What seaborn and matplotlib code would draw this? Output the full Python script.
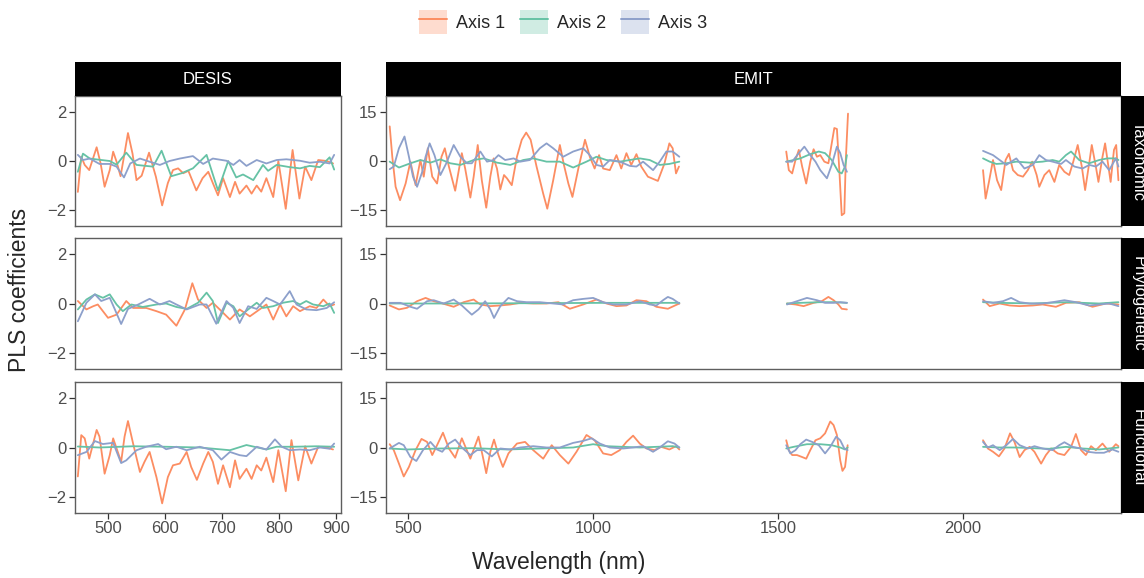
import numpy as np
import pandas as pd
import seaborn as sns
import matplotlib.pyplot as plt
from matplotlib.patches import Rectangle, Patch
from matplotlib.lines import Line2D

# ---------------------------------------------------------------
# DATA  (PLS coefficients)
# ---------------------------------------------------------------
axis_names = ["Axis 1", "Axis 2", "Axis 3"]
traits = ["Taxonomic", "Phylogenetic", "Functional"]
sensors = ["DESIS", "EMIT"]

# DESIS - Taxonomic
desis_tax_a1_wl = [447, 453, 459, 467, 480, 487, 494, 503, 509, 515, 522, 528, 535, 543, 550, 559, 572, 584,
                   595, 605, 614, 623, 632, 641, 655, 666, 676, 684, 693, 702, 714, 723, 731, 743, 752, 761,
                   769, 778, 790, 799, 812, 824, 836, 846, 857, 869, 884, 895]
desis_tax_a1 = [-1.26, 0.18, -0.16, -0.37, 0.56, -0.1, -1.05, -0.37, 0.38, -0.03, -0.62, 0.18, 1.14, 0.3,
                -0.78, -0.6, 0.34, -0.64, -1.81, -0.9, -0.37, -0.3, -0.5, -0.4, -1.2, -0.7, -0.44, -0.9,
                -1.4, -0.7, -1.47, -0.85, -1.33, -1.0, -1.33, -1.0, -1.25, -0.7, -1.47, 0.0, -1.95, 0.45,
                -1.53, -0.23, -0.78, 0.04, 0.0, -0.1]
desis_tax_a2_wl = [447, 456, 468, 485, 503, 515, 532, 550, 579, 594, 611, 629, 649, 673, 693, 711, 725, 737,
                   755, 772, 781, 796, 819, 837, 854, 872, 889, 897]
desis_tax_a2 = [-0.44, 0.3, 0.1, 0.05, 0.0, -0.15, 0.34, -0.16, -0.23, 0.42, -0.62, -0.5, -0.3, 0.25, -1.2,
                0.0, -0.67, -0.55, -0.78, -0.16, -0.4, -0.16, -0.25, -0.3, -0.2, -0.25, 0.15, -0.35]
desis_tax_a3_wl = [447, 456, 468, 485, 503, 515, 528, 539, 556, 573, 591, 608, 626, 649, 667, 684, 708, 720,
                   731, 743, 761, 778, 796, 813, 837, 854, 872, 889, 897]
desis_tax_a3 = [0.25, 0.04, 0.1, -0.12, -0.12, -0.23, -0.67, -0.1, 0.1, -0.03, -0.16, 0.0, 0.1, 0.2, -0.12,
                0.1, 0.01, -0.16, 0.04, -0.2, 0.04, -0.1, 0.04, 0.07, 0.01, -0.07, -0.03, -0.1, 0.25]

# DESIS - Phylogenetic
desis_phy_a1_wl = [447, 462, 474, 482, 500, 515, 532, 544, 567, 585, 602, 620, 635, 648, 658, 673, 684, 696,
                   714, 731, 749, 766, 778, 790, 802, 813, 825, 837, 854, 866, 878, 889, 897]
desis_phy_a1 = [0.1, -0.24, -0.11, -0.04, -0.58, -0.45, 0.1, -0.18, -0.18, -0.31, -0.45, -0.9, -0.24, 0.82,
                0.16, -0.18, 0.03, -0.24, -0.65, -0.24, -0.52, -0.24, -0.04, -0.65, -0.04, -0.52, -0.11,
                -0.31, -0.11, -0.18, 0.16, -0.11, -0.04]
desis_phy_a2_wl = [447, 462, 477, 491, 503, 515, 526, 541, 561, 585, 602, 620, 638, 658, 673, 684, 693, 708,
                   720, 731, 746, 761, 772, 790, 807, 825, 837, 848, 860, 878, 889, 897]
desis_phy_a2 = [-0.24, 0.16, 0.37, 0.23, 0.37, -0.04, -0.31, -0.04, -0.14, -0.04, 0.0, -0.14, -0.22, 0.03,
                0.44, 0.1, -0.79, 0.03, -0.11, -0.52, -0.24, 0.03, -0.18, -0.11, 0.03, 0.1, -0.04, 0.1,
                -0.04, -0.11, 0.0, -0.38]
desis_phy_a3_wl = [447, 462, 477, 488, 503, 512, 523, 535, 553, 573, 591, 608, 620, 638, 661, 673, 690, 708,
                   720, 731, 746, 761, 778, 790, 802, 819, 831, 848, 866, 884, 897]
desis_phy_a3 = [-0.72, 0.03, 0.37, 0.1, 0.23, -0.24, -0.83, -0.22, -0.04, 0.19, -0.04, 0.1, -0.04, -0.24,
                -0.04, -0.04, -0.82, 0.1, -0.18, -0.79, -0.11, -0.22, 0.23, 0.1, -0.04, 0.5, -0.04, -0.24,
                -0.27, -0.18, 0.05]

# DESIS - Functional
desis_fun_a1_wl = [447, 453, 459, 467, 480, 485, 494, 503, 509, 518, 523, 529, 535, 544, 556, 564, 573, 585,
                   595, 605, 614, 626, 638, 646, 656, 667, 676, 684, 693, 702, 714, 723, 731, 743, 752, 761,
                   769, 778, 790, 799, 812, 822, 834, 846, 857, 869, 884, 895]
desis_fun_a1 = [-1.17, 0.5, 0.37, -0.45, 0.71, 0.44, -1.06, -0.31, 0.37, -0.24, -0.58, 0.44, 1.07, 0.16,
                -0.99, -0.58, -0.18, -1.2, -2.26, -1.2, -0.72, -0.65, -0.18, -0.79, -1.31, -0.65, -0.18,
                -0.58, -1.47, -0.72, -1.61, -0.52, -1.27, -0.86, -1.27, -0.72, -0.93, -0.41, -1.4, -0.11,
                -1.77, 0.3, -1.33, 0.05, -0.65, 0.03, 0.0, -0.08]
desis_fun_a2_wl = [447, 485, 544, 602, 661, 714, 743, 778, 796, 825, 866, 897]
desis_fun_a2 = [0.04, 0.0, 0.05, 0.03, 0.0, -0.11, 0.1, -0.08, 0.03, 0.03, 0.05, 0.03]
desis_fun_a3_wl = [447, 462, 477, 491, 509, 523, 532, 550, 567, 588, 602, 620, 638, 661, 684, 699, 714, 731,
                   743, 761, 778, 793, 805, 819, 837, 854, 872, 889, 897]
desis_fun_a3 = [-0.31, -0.18, 0.26, 0.14, 0.19, -0.63, -0.52, -0.11, 0.03, 0.14, -0.07, 0.03, -0.11, 0.03,
                -0.11, -0.49, -0.18, -0.31, -0.35, 0.03, -0.08, 0.33, 0.03, -0.11, -0.08, -0.11, 0.0,
                -0.05, 0.16]

# EMIT - Taxonomic  (three spectral windows, gaps at the water bands)
emit_tax_a1_wl = [450, 457, 466, 478, 493, 506, 520, 533, 542, 553, 565, 578, 590, 599, 610, 627, 645, 654,
                  668, 677, 688, 699, 711, 722, 731, 740, 749, 759, 767, 780, 794, 807, 819, 831, 847, 865,
                  876, 892, 910, 921, 933, 944, 960, 978, 991, 1004, 1016, 1027, 1045, 1063, 1076, 1090,
                  1103, 1117, 1130, 1148, 1175, 1193, 1206, 1215, 1224, 1232,
                  1522, 1529, 1538, 1547, 1556, 1565, 1576, 1587, 1596, 1605, 1614, 1625, 1636, 1645, 1652,
                  1659, 1666, 1672, 1679, 1683, 1689,
                  2054, 2061, 2070, 2081, 2092, 2103, 2115, 2124, 2135, 2148, 2162, 2175, 2187, 2199, 2206,
                  2220, 2233, 2247, 2260, 2274, 2287, 2298, 2310, 2321, 2330, 2341, 2348, 2359, 2366, 2377,
                  2384, 2393, 2399, 2408, 2414, 2420]
emit_tax_a1 = [10.6, 1.3, -7.9, -12.0, -6.9, -0.2, -7.4, 0.3, -4.8, 3.9, -4.8, -6.9, 1.3, 3.9, -1.7, -9.1,
               2.4, -2.3, -11.2, -4.8, 4.9, -5.9, -14.3, -4.8, 0.8, -2.3, -8.7, -4.3, -5.3, -7.4, 1.3, 6.5,
               8.7, 6.5, -1.7, -10.0, -14.6, -5.9, 4.9, -1.2, -6.9, -11.0, -2.3, 6.5, 1.3, -2.3, 1.8, -2.3,
               -2.8, 1.8, -2.3, 2.4, -1.2, 2.1, -1.7, -4.8, -6.1, -0.7, 5.4, 3.9, -3.8, -1.7,
               2.9, -2.8, -3.8, 0.3, 3.4, -1.7, -6.9, -0.2, 3.6, 1.3, 1.8, -0.2, -0.7, 5.4, 10.1, 9.8,
               -3.8, -16.6, -16.0, 0.3, 14.5,
               -2.8, -11.5, -6.4, 0.3, -5.9, -8.9, 0.3, 2.2, -2.8, -4.3, -4.8, -2.8, -0.2, -4.3, -7.9,
               -4.3, -2.8, -6.4, -1.2, -3.3, -4.3, -0.2, 4.9, -1.7, -8.9, -0.7, 4.9, -1.7, -6.4, 1.3,
               5.4, -1.7, -6.4, 3.4, 4.9, -5.9]
emit_tax_a2_wl = [450, 475, 506, 533, 560, 587, 614, 641, 677, 704, 740, 776, 811, 838, 874, 910, 946, 982,
                  1009, 1036, 1072, 1099, 1126, 1153, 1180, 1206, 1233,
                  1522, 1542, 1560, 1587, 1610, 1627, 1645, 1663, 1672, 1681, 1686,
                  2054, 2072, 2090, 2117, 2144, 2180, 2215, 2242, 2260, 2278, 2292, 2314, 2341, 2368, 2390,
                  2413, 2420]
emit_tax_a2 = [-0.2, -2.0, -0.7, 0.3, -0.5, 0.5, -0.7, -1.2, 0.3, 0.8, -0.5, -1.2, 0.3, 0.8, -0.2, -0.2,
               -2.0, -0.2, 1.3, 0.3, -0.2, 0.3, 0.8, 0.3, -1.2, -0.9, -0.2,
               -0.2, 0.3, 0.8, 2.1, 2.9, 2.4, 0.3, -3.3, -3.8, -1.7, 1.8,
               0.8, -0.2, -0.9, -0.7, -0.2, -0.5, -0.2, 0.3, -0.2, 1.8, 2.9, 0.3, -0.7, 0.3, 0.8, 0.8, 0.3]
emit_tax_a3_wl = [450, 461, 475, 490, 502, 513, 524, 538, 547, 558, 571, 587, 603, 623, 641, 659, 672, 695,
                  713, 731, 744, 762, 785, 803, 829, 856, 874, 892, 919, 946, 973, 991, 1009, 1027, 1045,
                  1072, 1099, 1117, 1135, 1162, 1180, 1198, 1215, 1233,
                  1522, 1538, 1556, 1571, 1587, 1601, 1614, 1632, 1645, 1659, 1668, 1677, 1686,
                  2054, 2081, 2099, 2117, 2144, 2166, 2189, 2206, 2224, 2242, 2265, 2278, 2301, 2323, 2341,
                  2359, 2377, 2395, 2413, 2420]
emit_tax_a3 = [-2.5, -1.7, 3.9, 7.5, 1.3, -4.8, -7.9, -3.3, 1.3, 5.4, 1.8, -4.3, -0.7, 4.9, 1.3, -0.7, -0.7,
               2.9, -0.2, 0.3, 1.8, 0.3, 0.8, -0.2, 0.3, 3.9, 5.4, 3.9, 1.3, 2.9, 3.9, 1.8, -1.2, -1.7, 0.3,
               -0.2, -1.5, -1.7, -0.2, -2.8, -0.2, 2.9, 2.9, 1.3,
               -0.2, -0.2, 2.4, 4.4, 1.8, -0.2, -2.8, -5.3, -1.2, 4.4, 2.4, -1.2, -3.3,
               3.1, 1.8, 0.3, -1.2, 0.8, -2.3, -1.2, 1.8, 0.3, -0.2, -0.9, 0.3, -1.7, -2.3, -1.2, -1.7,
               -0.2, -2.8, 0.8, -1.7]

# EMIT - Phylogenetic
emit_phy_a1_wl = [450, 475, 497, 524, 547, 569, 587, 623, 650, 677, 695, 722, 749, 776, 803, 838, 874, 906,
                  937, 973, 1009, 1036, 1063, 1090, 1117, 1144, 1171, 1202, 1233,
                  1524, 1547, 1569, 1596, 1618, 1636, 1650, 1663, 1672, 1686,
                  2054, 2072, 2099, 2126, 2153, 2189, 2215, 2251, 2278, 2314, 2350, 2386, 2420]
emit_phy_a1 = [-0.6, -1.8, -1.3, 0.7, 1.7, 0.7, 0.2, -1.0, 0.4, 1.2, -0.3, -0.8, -0.6, -0.3, 0.2, 0.0, 0.0,
               0.4, -1.6, -0.3, 1.2, 0.0, -0.8, -0.6, 1.0, 0.7, -1.0, -1.6, 0.0,
               0.0, -0.3, -0.8, 0.2, 0.7, 2.0, 1.0, -0.3, -1.6, -1.8,
               1.2, -0.8, 0.0, -0.6, -0.8, -0.6, -0.3, -1.0, 0.2, 0.4, -1.0, 0.0, -0.3]
emit_phy_a2_wl = [450, 587, 856, 1036, 1233,
                  1524, 1560, 1614, 1650, 1686,
                  2054, 2099, 2189, 2278, 2368, 2420]
emit_phy_a2 = [0.0, 0.0, 0.1, 0.2, 0.2,
               0.0, 0.2, 0.4, 0.4, 0.2,
               0.4, 0.2, 0.0, 0.4, 0.0, 0.4]
emit_phy_a3_wl = [450, 479, 506, 524, 551, 569, 596, 623, 645, 672, 690, 708, 722, 732, 749, 771, 794, 820,
                  856, 892, 919, 946, 973, 1000, 1027, 1054, 1090, 1126, 1153, 1171, 1189, 1202, 1215, 1233,
                  1524, 1551, 1578, 1605, 1627, 1650, 1668, 1686,
                  2054, 2081, 2108, 2130, 2153, 2180, 2215, 2242, 2274, 2305, 2341, 2368, 2395, 2420]
emit_phy_a3 = [0.2, 0.2, -1.0, -1.6, 0.7, 1.0, 0.0, 1.2, -0.6, -3.4, -1.8, 0.7, -1.8, -4.4, -0.8, 1.7, 0.7,
               0.4, 0.4, 0.0, -0.3, 1.0, 1.4, 1.7, 0.4, -0.3, -0.3, 0.7, -0.3, -0.6, 1.0, 2.0, 1.4, 0.0,
               -0.3, 0.7, 1.7, 1.0, 0.2, 0.2, 0.4, 0.2,
               0.7, 0.2, 0.7, 1.7, 0.4, 0.0, 0.0, 0.4, 1.0, 0.4, -0.6, -0.3, 0.0, -0.8]

# EMIT - Functional
emit_fun_a1_wl = [450, 461, 475, 488, 502, 520, 536, 551, 565, 578, 594, 610, 627, 645, 668, 690, 702, 711,
                  722, 732, 744, 756, 771, 794, 816, 838, 865, 888, 910, 933, 955, 982, 1004, 1027, 1049,
                  1072, 1090, 1108, 1126, 1144, 1166, 1184, 1206, 1224, 1233,
                  1522, 1529, 1538, 1551, 1565, 1576, 1587, 1601, 1614, 1627, 1641, 1650, 1659, 1668, 1674,
                  1681, 1688,
                  2054, 2067, 2081, 2097, 2112, 2127, 2139, 2153, 2166, 2180, 2193, 2211, 2224, 2238, 2256,
                  2274, 2292, 2305, 2319, 2332, 2346, 2359, 2377, 2395, 2413, 2420]
emit_fun_a1 = [1.0, -0.8, -4.9, -8.8, -5.9, -0.8, 2.6, 1.7, -2.3, 0.7, 4.5, -0.3, -3.1, 2.8, -3.4, 3.3,
               -2.9, -7.8, -1.3, 2.4, -2.3, -5.9, -1.8, 1.2, 1.7, -0.8, -3.4, 0.7, -2.3, -4.9, -1.3, 3.8,
               2.2, -1.8, -2.3, -0.8, 1.7, 3.6, 1.2, -0.3, -0.8, 0.2, -0.6, 0.4, -0.6,
               2.2, -0.8, -2.3, -2.3, -2.9, -3.4, -0.8, 2.2, 2.8, 4.3, 7.9, 6.8, 3.8, -3.9, -7.1, -5.9,
               0.7,
               2.2, -0.3, -1.3, -2.7, -0.3, 4.3, 1.7, -2.9, -0.8, 0.2, -1.3, -4.9, -2.3, -0.3, -1.8,
               -2.3, 0.2, 4.1, -0.8, -2.3, 0.4, -0.8, 1.2, -1.3, 1.0, 0.4]
emit_fun_a2_wl = [450, 497, 587, 677, 767, 856, 946, 1000, 1036, 1126, 1215, 1233,
                  1522, 1542, 1578, 1614, 1645, 1668, 1681, 1688,
                  2054, 2099, 2144, 2189, 2233, 2278, 2323, 2368, 2420]
emit_fun_a2 = [-0.3, -0.6, -0.3, -0.2, -0.6, -0.3, 0.0, 1.0, 0.4, 0.0, 0.4, 0.0,
               -0.3, 0.2, 1.0, 1.0, 0.7, 0.0, -0.6, 0.0,
               0.2, 0.0, 0.0, -0.2, -0.4, 0.2, -0.3, -0.6, 0.0]
emit_fun_a3_wl = [450, 475, 488, 506, 522, 540, 560, 578, 592, 610, 627, 645, 668, 686, 704, 726, 749, 776,
                  803, 838, 874, 910, 946, 973, 996, 1018, 1045, 1081, 1108, 1135, 1162, 1180, 1202, 1220,
                  1233,
                  1522, 1533, 1547, 1560, 1576, 1592, 1610, 1627, 1641, 1657, 1668, 1679, 1688,
                  2054, 2067, 2081, 2099, 2117, 2135, 2153, 2175, 2193, 2215, 2242, 2260, 2274, 2296, 2319,
                  2337, 2359, 2381, 2404, 2420]
emit_fun_a3 = [-0.3, 1.4, 0.7, -2.9, -4.1, -0.8, 1.7, -0.6, -1.3, 1.2, 2.4, 0.0, -2.3, -0.8, -0.8, -2.7,
               -0.3, -0.6, 0.0, 0.4, 0.0, 0.0, 1.4, 2.0, 2.8, 1.2, 0.0, -0.3, 0.0, 0.4, -1.3, 0.0, 1.9,
               1.2, 0.0,
               0.7, -1.8, -0.8, 1.0, 2.4, 1.7, 0.7, -1.8, 0.2, 3.3, 2.2, -0.3, -0.8,
               1.7, 0.0, 0.7, -0.8, 0.7, 2.6, 0.7, -0.3, 0.4, -0.3, -0.8, 0.7, 1.6, 0.2, -0.3, -1.3,
               -1.6, -1.6, -0.6, -1.3]

# x ranges / ticks per sensor column
x_limits = {"DESIS": (442, 909), "EMIT": (440, 2427)}
x_ticks = {"DESIS": [500, 600, 700, 800, 900], "EMIT": [500, 1000, 1500, 2000]}
y_limits = {"DESIS": (-2.65, 2.65), "EMIT": (-19.9, 19.9)}
y_ticks = {"DESIS": [-2, 0, 2], "EMIT": [-15, 0, 15]}

# ---------------------------------------------------------------
# LONG TABLE
# ---------------------------------------------------------------
series = {
    ("DESIS", "Taxonomic", "Axis 1"): (desis_tax_a1_wl, desis_tax_a1),
    ("DESIS", "Taxonomic", "Axis 2"): (desis_tax_a2_wl, desis_tax_a2),
    ("DESIS", "Taxonomic", "Axis 3"): (desis_tax_a3_wl, desis_tax_a3),
    ("DESIS", "Phylogenetic", "Axis 1"): (desis_phy_a1_wl, desis_phy_a1),
    ("DESIS", "Phylogenetic", "Axis 2"): (desis_phy_a2_wl, desis_phy_a2),
    ("DESIS", "Phylogenetic", "Axis 3"): (desis_phy_a3_wl, desis_phy_a3),
    ("DESIS", "Functional", "Axis 1"): (desis_fun_a1_wl, desis_fun_a1),
    ("DESIS", "Functional", "Axis 2"): (desis_fun_a2_wl, desis_fun_a2),
    ("DESIS", "Functional", "Axis 3"): (desis_fun_a3_wl, desis_fun_a3),
    ("EMIT", "Taxonomic", "Axis 1"): (emit_tax_a1_wl, emit_tax_a1),
    ("EMIT", "Taxonomic", "Axis 2"): (emit_tax_a2_wl, emit_tax_a2),
    ("EMIT", "Taxonomic", "Axis 3"): (emit_tax_a3_wl, emit_tax_a3),
    ("EMIT", "Phylogenetic", "Axis 1"): (emit_phy_a1_wl, emit_phy_a1),
    ("EMIT", "Phylogenetic", "Axis 2"): (emit_phy_a2_wl, emit_phy_a2),
    ("EMIT", "Phylogenetic", "Axis 3"): (emit_phy_a3_wl, emit_phy_a3),
    ("EMIT", "Functional", "Axis 1"): (emit_fun_a1_wl, emit_fun_a1),
    ("EMIT", "Functional", "Axis 2"): (emit_fun_a2_wl, emit_fun_a2),
    ("EMIT", "Functional", "Axis 3"): (emit_fun_a3_wl, emit_fun_a3),
}

frames = []
for (sensor, trait, axis), (wl, coef) in series.items():
    wl = np.asarray(wl, dtype=float)
    frames.append(pd.DataFrame({
        "sensor": sensor, "trait": trait, "axis": axis,
        "wl": wl, "coef": coef,
        # water absorption bands split EMIT into separate windows
        "segment": np.digitize(wl, [1400, 1900]),
    }))
data = pd.concat(frames, ignore_index=True)

# ---------------------------------------------------------------
# PLOT
# ---------------------------------------------------------------
sns.set_theme(style="white")
plt.rcParams["font.family"] = ["Liberation Sans", "DejaVu Sans"]

palette = dict(zip(axis_names, ["#FC8D62", "#66C2A5", "#8DA0CB"]))

W, H = 1144, 578
fig = plt.figure(figsize=(W / 100, H / 100), dpi=100)


def box(x0, y0, x1, y1):
    """pixel box (top-left origin) -> figure fraction rect"""
    return [x0 / W, 1 - y1 / H, (x1 - x0) / W, (y1 - y0) / H]


col_px = {"DESIS": (75, 341), "EMIT": (386, 1121)}
row_px = [(96, 226), (238, 369), (382, 513)]

for i, trait in enumerate(traits):
    for sensor in sensors:
        x0, x1 = col_px[sensor]
        y0, y1 = row_px[i]
        ax = fig.add_axes(box(x0, y0, x1, y1))
        sub = data[(data.sensor == sensor) & (data.trait == trait)]
        sns.lineplot(data=sub, x="wl", y="coef", hue="axis", hue_order=axis_names,
                     units="segment", estimator=None, palette=palette,
                     linewidth=1.3, legend=False, ax=ax,
                     solid_joinstyle="round", solid_capstyle="round")
        ax.set_xlim(x_limits[sensor])
        ax.set_ylim(y_limits[sensor])
        ax.set_xticks(x_ticks[sensor])
        ax.set_yticks(y_ticks[sensor])
        ax.set_xlabel("")
        ax.set_ylabel("")
        for sp in ax.spines.values():
            sp.set_color("#5e5e5e")
            sp.set_linewidth(1.0)
        ax.tick_params(axis="both", which="both", direction="out", length=4, width=0.9,
                       color="#333333", labelsize=12, labelcolor="#4d4d4d", pad=2,
                       bottom=(i == 2), left=True, labelbottom=(i == 2))

    # right-hand strip (partly cut by the figure edge)
    ry0, ry1 = row_px[i]
    fig.add_artist(Rectangle((1121 / W, 1 - ry1 / H), 34 / W, (ry1 - ry0) / H,
                             transform=fig.transFigure, facecolor="black", edgecolor="none"))
    fig.text(1138 / W, 1 - (ry0 + ry1) / 2 / H, trait, rotation=-90, color="white",
             fontsize=12, ha="center", va="center")

# top strips
for sensor in sensors:
    x0, x1 = col_px[sensor]
    fig.add_artist(Rectangle((x0 / W, 1 - 96 / H), (x1 - x0) / W, 34 / H,
                             transform=fig.transFigure, facecolor="black", edgecolor="none"))
    fig.text((x0 + x1) / 2 / W, 1 - 79 / H, sensor, color="white", fontsize=12,
             ha="center", va="center")

# axis titles
fig.text(559 / W, 1 - 563 / H, "Wavelength (nm)", fontsize=16.5, ha="center", va="center")
fig.text(20 / W, 1 - 290 / H, "PLS coefficients", fontsize=16.5, rotation=90,
         ha="center", va="center")

# legend
handles = [(Patch(facecolor=palette[a], alpha=0.3, edgecolor="none"),
            Line2D([], [], color=palette[a], linewidth=1.4)) for a in axis_names]
fig.legend(handles, axis_names, loc="center", bbox_to_anchor=(563 / W, 1 - 22 / H),
           ncol=3, frameon=False, fontsize=13, handlelength=1.55, handleheight=1.65,
           handletextpad=0.5, columnspacing=0.8)

fig.savefig("out.png", dpi=100)
